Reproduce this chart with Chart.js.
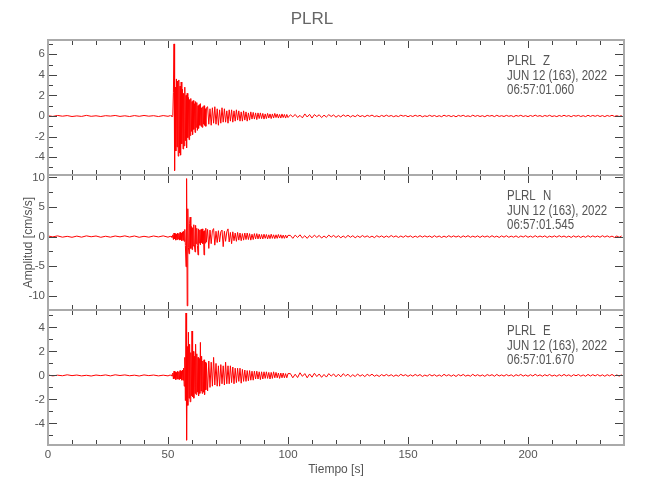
<!DOCTYPE html>
<html lang="es">
<head>
<meta charset="UTF-8">
<title>PLRL</title>
<script src="https://cdn.jsdelivr.net/npm/chart.js"></script>
<style>
  body { margin: 0; background: #fff; }
  #wrap { position: relative; width: 650px; height: 500px; }
  #wrap canvas { position: absolute; left: 0; top: 0; }
</style>
</head>
<body>
<div id="wrap">
  <canvas id="chartZ" width="650" height="500"></canvas>
  <canvas id="chartN" width="650" height="500"></canvas>
  <canvas id="chartE" width="650" height="500"></canvas>
</div>
<script>
// ---- labels ----
const stationName = 'PLRL';
const eventDate = 'JUN 12 (163), 2022';
const components = ['Z', 'N', 'E'];
const startTimes = ['06:57:01.060', '06:57:01.545', '06:57:01.670'];

// ---- axes ----
const xTicks = [0, 50, 100, 150, 200];
const xRange = [0, 240];
const zTicks = [-4, -2, 0, 2, 4, 6];
const nTicks = [-10, -5, 0, 5, 10];
const eTicks = [-4, -2, 0, 2, 4];
const zRange = [-5.73, 7.38];
const nRange = [-12.4, 10.4];
const eRange = [-5.8, 5.45];

// sampling of the traces: pre-event, strong motion, coda, tail (start [s], step [s])
const segStart = [0, 51, 66.5, 101];
const segStep = [2, 0.25, 0.5, 1];

// ---- Z (cm/s/s) ----
const zQuiet = [0.03,-0.04,0.05,-0.02,0.04,-0.05,0.01,-0.04,0.06,-0.03,0.02,-0.05,0.03,-0.01,0.05,-0.04,0.02,-0.05,0.04,-0.03,0.05,-0.02,0.03,-0.05,0.04,-0.03];
const zMain = [0.04,-0.03,0.05,-0.04, 0.05,2.3,7.0,-5.3, 2.8,-3.4,3.6,-3.0, 3.4,-3.9,3.5,-3.6,
  2.9,-3.8,3.3,-2.7, 2.6,-3.2,2.2,-2.9, 2.8,-2.4,2.0,-3.1, 2.2,-2.1,1.8,-2.3,
  1.6,-1.9,1.7,-1.5, 1.4,-1.8,1.5,-1.3, 1.2,-1.6,1.4,-1.1, 1.3,-1.4,1.0,-1.2,
  1.1,-0.9,1.2,-1.0, 0.8,-1.1,0.9,-0.8, 1.0,-0.9,0.7,-1.0, 0.8];
const zCoda = [0.9,-0.8,0.7,-0.9,0.8,-0.7,0.9,-0.8, 0.7,-0.9,0.6,-0.7,0.8,-0.6,0.7,-0.6,
  0.5,-0.7,0.6,-0.5,0.6,-0.6,0.5,-0.5, 0.6,-0.4,0.5,-0.5,0.4,-0.5,0.5,-0.4,
  0.4,-0.5,0.3,-0.4,0.4,-0.3,0.35,-0.3, 0.3,-0.35,0.3,-0.25,0.3,-0.25,0.25,-0.3,
  0.2,-0.25,0.25,-0.2,0.2,-0.25,0.2,-0.2, 0.25,-0.15,0.2,-0.2,0.15,-0.2,0.2,-0.15,
  0.15,-0.2,0.15,-0.15];
const zTail = [0.12,-0.08,0.15,-0.14,0.06,-0.18,0.2,-0.1,0.16,-0.2,
  0.14,-0.06,0.12,-0.15,0.08,-0.1,0.13,-0.05,0.1,-0.12,
  0.06,-0.09,0.11,-0.04,0.08,-0.1,0.05,-0.07,0.1,-0.06,
  0.04,-0.08,0.07,-0.03,0.09,-0.06,0.02,-0.08,0.06,-0.05,
  0.08,-0.04,0.05,-0.07,0.03,-0.06,0.08,-0.02,0.05,-0.07,
  0.04,-0.05,0.07,-0.03,0.06,-0.08,0.02,-0.05,0.07,-0.04,
  0.05,-0.06,0.03,-0.07,0.08,-0.03,0.05,-0.06,0.04,-0.08,
  0.06,-0.03,0.07,-0.05,0.02,-0.06,0.08,-0.04,0.05,-0.05,
  0.03,-0.07,0.06,-0.02,0.05,-0.06,0.07,-0.04,0.03,-0.05,
  0.06,-0.03,0.04,-0.07,0.05,-0.02,0.07,-0.05,0.03,-0.06,
  0.05,-0.04,0.08,-0.03,0.04,-0.06,0.05,-0.03,0.07,-0.05,
  0.02,-0.06,0.05,-0.04,0.07,-0.03,0.04,-0.07,0.05,-0.02,
  0.06,-0.05,0.03,-0.06,0.07,-0.04,0.05,-0.03,0.06,-0.05,
  0.04,-0.06,0.05,-0.03,0.07,-0.04,0.03,-0.05,0.04];

// ---- N ----
const nQuiet = [0.1,-0.05,0.12,-0.1,0.04,-0.12,0.08,-0.1,0.12,-0.03,0.1,-0.12,0.06,-0.1,0.1,-0.05,0.12,-0.08,0.1,-0.12,0.05,-0.1,0.1,-0.06,0.12,-0.1];
const nMain = [0.05,-0.1,0.1,-0.1, 0.3,-0.5,0.6,-0.4, 0.5,-0.6,0.4,-0.5, 0.6,-0.4,0.5,-0.6,
  0.7,-0.5,0.6,-0.7, 0.8,-0.6,0.9,-0.8, 1.2,-1.5,-5.1,9.8, -11.7,4.7,-1.8,-2.9,
  2.2,3.3,-2.0,1.7, -2.2,1.5,-1.6,2.0, -1.4,-2.6,1.9,-1.2, 1.4,-1.5,-3.1,1.3,
  -1.1,1.1,-1.4,1.2, -1.0,1.3,-1.2,0.9, -3.1,1.0,-1.1,1.4, -0.9];
const nCoda = [1.2,-2.0,1.1,-1.2,1.0,1.35,-1.45,0.9, -1.0,1.0,-0.9,0.8,1.1,-1.7,0.9,-0.8,
  0.8,1.3,-0.9,0.7,-1.2,0.8,-0.7,0.6, -0.8,0.7,-0.6,0.6,-0.7,0.5,-0.6,0.6,
  -0.5,0.6,-0.5,0.5,-0.6,0.4,-0.5,0.5, -0.4,0.5,-0.4,0.4,-0.4,0.35,-0.4,0.4,
  -0.3,0.35,-0.4,0.3,-0.35,0.4,-0.3,0.3, -0.35,0.3,-0.3,0.35,-0.25,0.3,-0.3,0.25,
  -0.3,0.25,-0.25,0.2];
const nTail = [0.2,-0.3,0.25,-0.15,0.3,-0.25,0.15,-0.3,0.2,-0.2,
  0.25,-0.15,0.2,-0.25,0.1,-0.2,0.25,-0.1,0.2,-0.15,
  0.15,-0.2,0.1,-0.18,0.2,-0.12,0.15,-0.2,0.1,-0.15,
  0.18,-0.1,0.12,-0.15,0.08,-0.18,0.15,-0.1,0.12,-0.15,
  0.1,-0.12,0.18,-0.08,0.12,-0.15,0.1,-0.12,0.15,-0.08,
  0.12,-0.15,0.08,-0.12,0.15,-0.1,0.12,-0.08,0.1,-0.15,
  0.15,-0.1,0.1,-0.15,0.08,-0.12,0.15,-0.1,0.12,-0.08,
  0.1,-0.15,0.12,-0.08,0.15,-0.12,0.08,-0.1,0.12,-0.15,
  0.12,-0.08,0.1,-0.12,0.15,-0.1,0.08,-0.15,0.12,-0.1,
  0.15,-0.12,0.08,-0.1,0.12,-0.15,0.1,-0.08,0.15,-0.12,
  0.08,-0.12,0.15,-0.1,0.1,-0.08,0.12,-0.15,0.08,-0.1,
  0.12,-0.1,0.15,-0.08,0.1,-0.12,0.08,-0.15,0.12,-0.1,
  0.1,-0.15,0.08,-0.12,0.15,-0.1,0.12,-0.08,0.1,-0.12,
  0.15,-0.08,0.12,-0.1,0.08,-0.15,0.1,-0.12,0.1];

// ---- E ----
const eQuiet = [0.03,-0.04,0.02,-0.03,0.05,-0.02,0.03,-0.04,0.01,-0.05,0.03,-0.02,0.04,-0.04,0.05,-0.01,0.04,-0.03,0.02,-0.05,0.04,-0.02,0.03,-0.04,0.02,-0.04];
const eMain = [0.04,-0.03,0.05,-0.04, 0.2,-0.3,0.35,-0.25, 0.3,-0.35,0.25,-0.3, 0.35,-0.3,0.3,-0.35,
  0.4,-0.3,0.35,-0.4, 0.45,-0.4,0.6,-0.9, 1.5,-2.1,5.2,-5.4, 2.4,-2.5,3.6,-1.9,
  2.6,-2.2,1.9,-1.7, 3.7,-1.8,2.0,-1.9, 1.6,-1.5,2.6,-1.6, 1.8,-1.4,1.5,-1.7,
  1.4,-1.5,2.75,-1.3, 1.6,-1.5,1.2,-1.4, 1.3,-1.6,1.1,-1.2, 1.0];
const eCoda = [-1.3,1.2,-1.0,1.1,-0.9,1.5,-0.8,1.0, -0.9,0.8,-0.9,0.9,-0.7,0.8,-0.8,1.1,
  -0.7,0.8,-0.7,0.8,-0.6,0.7,-0.7,0.6, -0.6,0.6,-0.5,0.6,-0.65,0.5,-0.5,0.45,
  -0.5,0.4,-0.45,0.4,-0.4,0.35,-0.4,0.35, -0.3,0.35,-0.3,0.3,-0.35,0.3,-0.3,0.3,
  -0.25,0.3,-0.25,0.25,-0.3,0.25,-0.25,0.3, -0.2,0.25,-0.2,0.2,-0.25,0.2,-0.2,0.2,
  -0.2,0.15,-0.2,0.15];
const eTail = [0.15,-0.2,0.1,-0.18,0.22,-0.08,0.15,-0.2,0.12,-0.15,
  0.18,-0.1,0.12,-0.16,0.08,-0.14,0.15,-0.06,0.12,-0.12,
  0.1,-0.12,0.14,-0.05,0.1,-0.12,0.06,-0.1,0.12,-0.07,
  0.06,-0.1,0.09,-0.04,0.1,-0.07,0.04,-0.09,0.07,-0.05,
  0.08,-0.05,0.06,-0.08,0.04,-0.07,0.09,-0.03,0.06,-0.08,
  0.05,-0.06,0.08,-0.04,0.07,-0.09,0.03,-0.06,0.08,-0.05,
  0.06,-0.07,0.04,-0.08,0.09,-0.04,0.06,-0.07,0.05,-0.09,
  0.07,-0.04,0.08,-0.06,0.03,-0.07,0.09,-0.05,0.06,-0.06,
  0.04,-0.08,0.07,-0.03,0.06,-0.07,0.08,-0.05,0.04,-0.06,
  0.07,-0.04,0.05,-0.08,0.06,-0.03,0.08,-0.06,0.04,-0.07,
  0.06,-0.05,0.09,-0.04,0.05,-0.07,0.06,-0.04,0.08,-0.06,
  0.03,-0.07,0.06,-0.05,0.08,-0.04,0.05,-0.08,0.06,-0.03,
  0.07,-0.06,0.04,-0.07,0.08,-0.05,0.06,-0.04,0.07,-0.06,
  0.05,-0.07,0.06,-0.04,0.08,-0.05,0.04,-0.06,0.05];

const FONT = "'Liberation Sans', Arial, sans-serif";
Chart.defaults.font.family = FONT;

function trace(segs) {
  const pts = [];
  segs.forEach((vals, s) => vals.forEach((v, i) => pts.push({ x: segStart[s] + i * segStep[s], y: v })));
  return pts;
}

// frame, inward tick marks and station text, drawn over each panel
const seisFrame = {
  id: 'seisFrame',
  afterDraw(chart, args, o) {
    const { ctx, chartArea: a, scales: { x, y } } = chart;
    ctx.save();
    ctx.strokeStyle = '#444';
    ctx.lineWidth = 1;
    ctx.beginPath();
    for (let v = xRange[0]; v <= xRange[1]; v += 10) {
      const px = Math.round(x.getPixelForValue(v)) + 0.5;
      const len = xTicks.includes(v) ? 8 : 5;
      ctx.moveTo(px, a.top); ctx.lineTo(px, a.top + len);
      ctx.moveTo(px, a.bottom); ctx.lineTo(px, a.bottom - len);
    }
    for (let v = Math.ceil(y.min / o.minor) * o.minor; v <= y.max; v += o.minor) {
      const py = Math.round(y.getPixelForValue(v)) + 0.5;
      const len = o.major.some(m => Math.abs(m - v) < 1e-6) ? 9 : 5;
      ctx.moveTo(a.left, py); ctx.lineTo(a.left + len, py);
      ctx.moveTo(a.right, py); ctx.lineTo(a.right - len, py);
    }
    ctx.stroke();

    ctx.strokeStyle = '#aaa';
    ctx.lineWidth = 2;
    ctx.strokeRect(a.left, a.top, a.right - a.left, a.bottom - a.top);

    // station / date / start time, in a narrow face like the original plot
    ctx.fillStyle = '#555';
    ctx.font = '14px ' + FONT;
    ctx.textAlign = 'left';
    ctx.textBaseline = 'middle';
    const sx = 0.82;
    const tx = (a.right - 117) / sx;
    ctx.scale(sx, 1);
    ctx.fillText(stationName, tx, a.top + 21.5);
    ctx.fillText(o.comp, tx + 36 / sx, a.top + 21.5);
    ctx.fillText(eventDate, tx, a.top + 36);
    ctx.fillText(o.start, tx, a.top + 50.5);
    ctx.restore();
  }
};

const panels = [
  { id: 'chartZ', data: trace([zQuiet, zMain, zCoda, zTail]), range: zRange, ticks: zTicks, minor: 1, top: 40, bottom: 175 },
  { id: 'chartN', data: trace([nQuiet, nMain, nCoda, nTail]), range: nRange, ticks: nTicks, minor: 2.5, top: 175, bottom: 310 },
  { id: 'chartE', data: trace([eQuiet, eMain, eCoda, eTail]), range: eRange, ticks: eTicks, minor: 1, top: 310, bottom: 445 }
];

panels.forEach((p, k) => {
  const first = k === 0, mid = k === 1, last = k === panels.length - 1;
  new Chart(document.getElementById(p.id), {
    type: 'line',
    data: {
      datasets: [{
        data: p.data,
        borderColor: '#ff0000',
        borderWidth: 1,
        pointRadius: 0,
        tension: 0,
        fill: false
      }]
    },
    options: {
      responsive: false,
      animation: false,
      devicePixelRatio: 1,
      layout: { padding: { left: 0, right: 26, top: first ? 0 : p.top, bottom: last ? 0 : 500 - p.bottom } },
      plugins: {
        legend: { display: false },
        tooltip: { enabled: false },
        title: {
          display: first,
          text: stationName,
          color: '#666',
          font: { family: FONT, size: 17, weight: 'normal' },
          padding: { top: 9, bottom: 10.6 }
        },
        seisFrame: { comp: components[k], start: startTimes[k], major: p.ticks, minor: p.minor }
      },
      scales: {
        x: {
          type: 'linear',
          min: xRange[0],
          max: xRange[1],
          display: last,
          grid: { display: false, drawTicks: false },
          border: { display: false },
          afterBuildTicks: s => { s.ticks = xTicks.map(v => ({ value: v })); },
          afterFit: s => { if (last) s.height = 55; },
          ticks: { color: '#555', font: { size: 11.5 }, padding: 3, maxRotation: 0, autoSkip: false },
          title: {
            display: true,
            text: 'Tiempo [s]',
            color: '#555',
            font: { size: 12 },
            padding: { top: 0, bottom: 23 }
          }
        },
        y: {
          min: p.range[0],
          max: p.range[1],
          grid: { display: false, drawTicks: false },
          border: { display: false },
          afterBuildTicks: s => { s.ticks = p.ticks.map(v => ({ value: v })); },
          afterFit: s => { s.width = 48; },
          ticks: { color: '#555', font: { size: 11.5 }, padding: 3 },
          title: {
            display: mid,
            text: 'Amplitud [cm/s/s]',
            color: '#555',
            font: { size: 12 },
            padding: { top: 21, bottom: 0 }
          }
        }
      }
    },
    plugins: [seisFrame]
  });
});
</script>
</body>
</html>
